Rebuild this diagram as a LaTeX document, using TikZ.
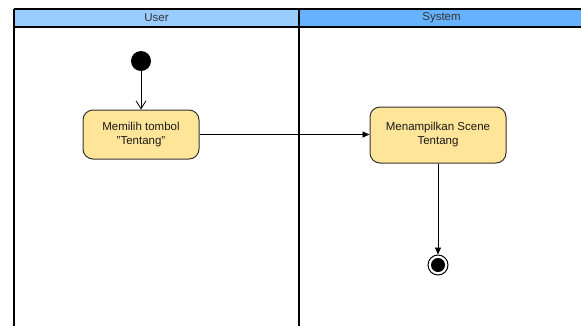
\documentclass[tikz,border=0pt]{standalone}
\usepackage{fontspec}
\setmainfont{Liberation Sans}
\usetikzlibrary{arrows.meta}
\definecolor{hdrA}{HTML}{99CCFF}
\definecolor{hdrB}{HTML}{66B2FF}
\definecolor{actfill}{HTML}{FFE599}
\definecolor{actdraw}{HTML}{333333}
\begin{document}
\begin{tikzpicture}[x=1pt,y=-1pt,
  lane/.style={draw=black,line width=2pt},
  hdrtext/.style={font=\fontsize{11.5}{13}\selectfont,text=black!80},
  act/.style={draw=actdraw,fill=actfill,rounded corners=10pt,line width=1pt,align=center,
    font=\fontsize{11.5}{14}\selectfont,text=black!90,inner sep=0pt},
  flow/.style={draw=black,line width=0.8pt},
  startdot/.style={circle,fill=black,inner sep=0pt,minimum size=20pt},
  enddot/.style={circle,draw=black,line width=1pt,fill=white,inner sep=0pt,minimum size=20pt}
]
\useasboundingbox (0,0) rectangle (581,325);
% lanes
\fill[hdrA] (14,9) rectangle (299,27);
\fill[hdrB] (299,9) rectangle (584,27);
\draw[lane] (14,9) -- (584,9);
\draw[lane] (14,27) -- (584,27);
\draw[lane] (14,9) -- (14,330);
\draw[lane] (299,9) -- (299,330);
\node[hdrtext] (hu) at (156.5,18) {User};
\node[hdrtext] (hs) at (441.5,18) {System};
% nodes
\node[startdot] (s) at (141,61) {};
\node[act,minimum width=116pt,minimum height=49pt] (a1) at (141,134.5) {Memilih tombol\\{\char34}Tentang{\char34}};
\node[act,minimum width=136pt,minimum height=56pt] (a2) at (438,135) {Menampilkan Scene\\Tentang};
\node[enddot] (e) at (438,265) {};
\fill[black] (e) circle (7pt);
% connectors
\draw[flow,-{Straight Barb[length=8pt,width=10pt]}] (s) -- (a1);
\draw[flow,-{Triangle[length=7pt,width=6pt]}] (a1.east) -- (a2.west|-a1.east);
\draw[flow,-{Triangle[length=7pt,width=6pt]}] (a2) -- (e);
\end{tikzpicture}
\end{document}
